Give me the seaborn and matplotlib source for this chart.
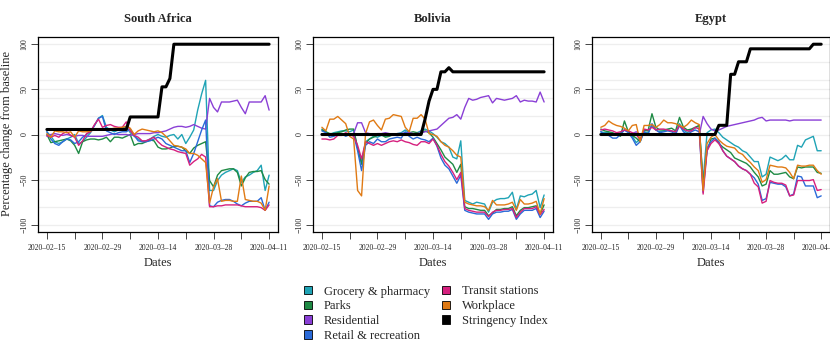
import numpy as np
import pandas as pd
import matplotlib
matplotlib.use("Agg")
import matplotlib.pyplot as plt
import seaborn as sns
from matplotlib.patches import Patch

# ---------------- data ----------------
dates = pd.date_range("2020-02-15", "2020-04-11", freq="D")
countries = ["South Africa", "Bolivia", "Egypt"]
categories = ["Grocery & pharmacy", "Parks", "Residential", "Retail & recreation",
              "Transit stations", "Workplace"]
tick_dates = ["2020-02-15", "2020-02-29", "2020-03-14", "2020-03-28", "2020-04-11"]
y_ticks = [-100, -50, 0, 50, 100]

# South Africa
sa_grocery = [3, -2, -8, -10, -8, -5, -3, 0, -10, -8, -3, 2, 10, 18,
              21, 8, 5, 3, 5, 7, 9, 2, -2, -5, -8, -7, -5, -2,
              0, -2, -3, -1, 0, -5, 0, -10, -3, 5, 27, 45, 60,
              -62, -62, -51, -45, -42, -40, -38, -40, -53, -47, -45, -42, -40, -34, -62, -45]
sa_parks = [0, -9, -8, -7, -6, -5, -7, -12, -21, -8, -6, -5, -5, -6,
            -5, -3, -8, -3, -3, -4, -2, 0, -12, -10, -10, -8, -6, -7,
            -14, -16, -16, -15, -13, -13, -14, -18, -21, -15, -12, -10, -8,
            -51, -58, -45, -40, -39, -38, -38, -42, -57, -48, -42, -41, -41, -40, -50, -55]
sa_residential = [-2, 0, 1, 0, -1, 0, -1, -2, -1, -1, -2, -2, -2, -2,
                  -2, -1, 0, 1, 0, 0, 0, -1, 0, 1, 1, 1, 1, 2,
                  2, 3, 4, 6, 8, 9, 9, 8, 9, 11, 9, 7, 6,
                  40, 30, 25, 36, 36, 36, 37, 38, 30, 23, 36, 36, 36, 36, 43, 27]
sa_retail = [3, -5, -10, -12, -8, -5, -6, -10, -8, -3, 0, 4, 10, 18,
             20, 4, 2, 0, 2, 3, 3, 6, -1, -7, -8, -8, -7, -5,
             -3, -5, -10, -12, -14, -16, -18, -18, -31, -21, -8, 5, 16,
             -79, -80, -75, -73, -72, -72, -74, -77, -79, -76, -74, -74, -74, -70, -84, -75]
sa_transit = [-1, -3, -1, -3, 1, 3, -1, -3, -12, -7, 1, 3, 11, 17,
              8, 10, 11, 9, 8, 8, 14, 4, -1, -3, -7, -7, -5, -3,
              -8, -12, -14, -16, -17, -19, -20, -21, -34, -30, -27, -22, -25,
              -80, -80, -79, -79, -78, -78, -78, -78, -79, -80, -80, -80, -80, -81, -84, -78]
sa_workplace = [1, -3, 4, 3, 3, 2, 3, -3, 4, 3, 3, 4, 5, 5,
                6, 6, 6, 7, 7, 8, 9, 7, 0, 4, 6, 5, 4, 3,
                4, 2, -2, -7, -12, -13, -14, -16, -21, -21, -23, -27, -31,
                -76, -58, -49, -74, -73, -73, -74, -74, -46, -72, -73, -74, -74, -76, -84, -57]
sa_stringency = [5.56] * 21 + [19.44] * 8 + [52.78, 52.78, 62.04] + [100.0] * 25

# Bolivia
bo_grocery = [6, 3, 0, 2, 3, 4, 4, 3, 5, -15, -31, -8, -5, -2, -3, -1, -2, -1, 0, 1, 2, 5, 2, 0, 2, 4, 6, 4,
              1, -3, -8, -10, -14, -25, -27, -7,
              -73, -75, -77, -75, -76, -77, -86, -75, -72, -71, -71, -70, -64, -83, -68, -69, -67, -66, -62, -81, -67]
bo_parks = [5, 3, 1, 1, 2, 3, 5, 6, 6, -15, -33, -10, -5, -3, -1, 0, -3, -2, 0, 0, 0, 1, 2, 3, 2, 1, 4, 2,
            -3, -10, -17, -25, -29, -33, -42, -33,
            -80, -82, -82, -83, -84, -84, -90, -87, -83, -83, -82, -82, -80, -90, -84, -81, -81, -80, -79, -88, -78]
bo_residential = [1, 0, 0, 1, 0, 0, 1, -1, 1, 13, 13, 2, 1, 0, 1, 1, 2, 1, 0, 1, 1, 2, 2, 1, 1, 2, 3, 4,
                  5, 6, 10, 14, 18, 19, 22, 17,
                  30, 40, 38, 39, 41, 42, 43, 35, 40, 39, 38, 39, 40, 43, 36, 38, 37, 37, 36, 47, 36]
bo_retail = [4, 2, -3, -2, 0, 1, -2, 0, 0, -18, -40, -12, -8, -10, -5, -8, -8, -5, -4, -3, -4, 3, -2, -5, -3, -5, -6, -8,
             -4, -13, -26, -34, -38, -46, -54, -45,
             -84, -86, -87, -88, -88, -88, -94, -88, -86, -86, -85, -85, -83, -94, -88, -84, -84, -84, -82, -92, -85]
bo_transit = [-5, -5, -6, -5, -1, -1, 2, 0, -2, -12, -27, -8, -10, -12, -10, -12, -10, -8, -7, -8, -6, -8, -9, -11, -12, -8, -8, -10,
              -5, -12, -22, -30, -35, -42, -50, -42,
              -82, -84, -85, -86, -86, -86, -91, -86, -84, -84, -83, -83, -82, -92, -86, -82, -82, -82, -80, -89, -83]
bo_workplace = [8, 4, 17, 17, 20, 16, 12, -2, -5, -62, -68, 1, 14, 16, 10, 5, 17, 18, 22, 21, 20, 8, 3, 18, 18, 22, 17, 1,
                0, -2, -8, -12, -14, -18, -23, -25,
                -75, -77, -78, -79, -79, -80, -84, -73, -78, -78, -78, -77, -75, -84, -72, -77, -77, -76, -74, -88, -71]
bo_stringency = [0.0] * 26 + [17, 37, 50, 50, 69.44, 69.44, 74.0] + [69.44] * 24

# Egypt
eg_grocery = [3, 2, 2, 0, 0, 2, 5, 3, -2, -9, -5, 3, 2, 10, 5, 3, 4, 5, 4, 2, 12, 5, 2, 5, 7, 10,
              -51, 2, 5, 6, 2, -3, -6, -9, -12, -14, -18, -20, -25, -30, -30, -47, -44, -25, -27, -29,
              -27, -23, -28, -28, -12, -14, -6, -4, -2, -18, -18]
eg_parks = [6, 4, 3, 2, 0, -2, 15, 3, -1, -4, -8, 5, 4, 23, 8, 5, 5, 6, 7, 4, 19, 8, 5, 6, 8, 10,
            -55, -18, -5, -4, -10, -14, -17, -20, -26, -28, -30, -32, -36, -42, -47, -57, -55, -40, -44, -44,
            -43, -42, -47, -49, -36, -37, -36, -36, -36, -42, -43]
eg_residential = [0, 0, 0, 0, 0, 0, 0, 0, 1, 3, 0, 0, 0, 0, 0, -1, -1, -1, -1, 0, 0, 0, 1, 0, 0, -1,
                  20, 12, 6, 4, 5, 7, 9, 10, 11, 12, 13, 14, 15, 16, 18, 19, 15, 16, 16, 16,
                  16, 16, 15, 16, 16, 16, 16, 16, 16, 16, 16]
eg_retail = [3, 0, -1, -4, -4, 0, 5, 2, -4, -12, -8, 3, 0, 12, 5, 2, 3, 4, 3, 0, 10, 3, 0, 3, 5, 3,
             -64, -15, -8, -4, -8, -18, -24, -27, -30, -35, -38, -40, -44, -48, -55, -73, -71, -53, -54, -55,
             -55, -58, -68, -66, -46, -47, -57, -57, -57, -70, -68]
eg_transit = [5, 6, 5, 4, 2, 3, 5, 4, 2, 0, -6, 6, 5, 8, 5, 6, 6, 5, 4, 3, 10, 6, 4, 4, 8, 6,
              -66, -18, -10, -6, -10, -18, -24, -27, -30, -35, -38, -40, -44, -54, -58, -76, -74, -51, -53, -54,
              -54, -56, -68, -67, -51, -51, -51, -51, -50, -62, -61]
eg_workplace = [8, 10, 15, 12, 10, 9, 7, 4, 10, 11, -8, 10, 10, 11, 8, 11, 16, 13, 13, 12, 10, 8, 11, 16, 13, 11,
                -62, -10, -3, 0, -6, -10, -13, -14, -15, -20, -22, -27, -31, -36, -40, -53, -50, -34, -35, -36,
                -36, -37, -42, -49, -34, -35, -35, -34, -34, -40, -44]
eg_stringency = [0.0] * 30 + [10.19] * 3 + [66.67] * 2 + [80.56] * 3 + [94.91] * 16 + [100.0] * 3

mobility = {
    "South Africa": [sa_grocery, sa_parks, sa_residential, sa_retail, sa_transit, sa_workplace],
    "Bolivia": [bo_grocery, bo_parks, bo_residential, bo_retail, bo_transit, bo_workplace],
    "Egypt": [eg_grocery, eg_parks, eg_residential, eg_retail, eg_transit, eg_workplace],
}
stringency = {"South Africa": sa_stringency, "Bolivia": bo_stringency, "Egypt": eg_stringency}

# ---------------- style ----------------
palette = {
    "Grocery & pharmacy": "#1fa3b5",
    "Parks": "#1e8a44",
    "Residential": "#8a3fd6",
    "Retail & recreation": "#2a6ad8",
    "Transit stations": "#d6207e",
    "Workplace": "#e07a14",
}
sns.set_theme(style="white")
plt.rcParams["font.family"] = ["Liberation Serif", "DejaVu Serif"]
plt.rcParams["axes.unicode_minus"] = True

W, H = 830, 346
fig = plt.figure(figsize=(W / 100, H / 100), dpi=100)
panels = [(38, 278), (313, 553), (592, 830)]
top_px, bot_px = 37, 232

xlo = dates[0] - pd.Timedelta(days=2.24)
xhi = dates[-1] + pd.Timedelta(days=2.24)
week_ticks = pd.date_range(dates[0], dates[-1], freq="7D")

for country, (l, r) in zip(countries, panels):
    ax = fig.add_axes([l / W, (H - bot_px) / H, (r - l) / W, (bot_px - top_px) / H])
    rows = []
    for cat, vals in zip(categories, mobility[country]):
        rows.append(pd.DataFrame({"date": dates, "value": vals, "category": cat}))
    df = pd.concat(rows, ignore_index=True)
    # grid
    ax.set_yticks(np.arange(-100, 101, 20), minor=True)
    ax.grid(which="minor", axis="y", color="#eeeeee", linewidth=0.9, zorder=0)
    ax.grid(which="major", axis="y", color="#eeeeee", linewidth=0.9, zorder=0)
    ax.set_axisbelow(True)
    sns.lineplot(data=df, x="date", y="value", hue="category", hue_order=categories,
                 palette=palette, linewidth=1.0, legend=False, ax=ax, zorder=3)
    sdf = pd.DataFrame({"date": dates, "value": stringency[country]})
    sns.lineplot(data=sdf, x="date", y="value", color="black", linewidth=2.2, ax=ax, zorder=4)

    ax.set_xlim(xlo, xhi)
    ax.set_ylim(-108, 108)
    ax.set_xticks(week_ticks)
    labs = []
    for d in week_ticks:
        s = d.strftime("%Y-%m-%d")
        labs.append(s.replace("-", "\u2013") if s in tick_dates else "")
    ax.set_xticklabels(labs, fontsize=5.5, color="#222222")
    ax.set_yticks(y_ticks)
    ax.set_yticklabels([str(v).replace("-", "\u2212") for v in y_ticks], rotation=90,
                       va="center", fontsize=5.8, color="#222222")
    ax.tick_params(axis="both", which="major", direction="out", length=5, width=0.7,
                   color="#444444", bottom=True, left=True)
    ax.tick_params(axis="x", pad=3.5)
    ax.tick_params(axis="y", pad=2)
    ax.tick_params(which="minor", length=0, left=False)
    ax.set_xlabel("")
    ax.set_ylabel("")
    for sp in ax.spines.values():
        sp.set_visible(True)
        sp.set_color("black")
        sp.set_linewidth(0.9)
    cx = (l + r) / 2 / W
    fig.text(cx, 1 - 19 / H, country, ha="center", va="center", fontsize=9, fontweight="bold")
    fig.text(cx, 1 - 263 / H, "Dates", ha="center", va="center", fontsize=9)

fig.text(7 / W, 1 - 134 / H, "Percentage change from baseline", rotation=90,
         ha="center", va="center", fontsize=9)

# legend
legend_labels = categories + ["Stringency Index"]
legend_colors = [palette[c] for c in categories] + ["black"]
handles = [Patch(facecolor=c, edgecolor="black", linewidth=0.6) for c in legend_colors]
common = dict(frameon=False, fontsize=9, handlelength=0.65, handleheight=0.65,
              handletextpad=0.95, labelspacing=0.22, borderpad=0, borderaxespad=0)
fig.legend(handles[:4], legend_labels[:4], loc="upper left",
           bbox_to_anchor=(304 / W, 1 - 285.5 / H), **common)
fig.legend(handles[4:], legend_labels[4:], loc="upper left",
           bbox_to_anchor=(441.5 / W, 1 - 285.5 / H), **common)

fig.savefig("out.png", dpi=100)
